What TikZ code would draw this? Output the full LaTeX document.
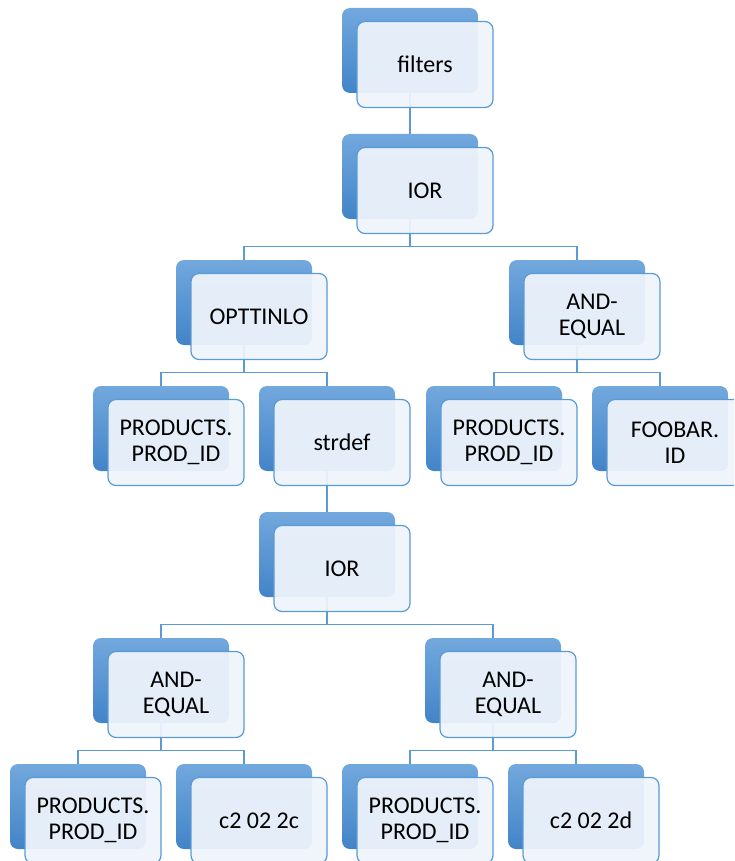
\documentclass[tikz,border=0pt]{standalone}
\usepackage{fontspec}
\setmainfont{Carlito}
\usepackage{tikz}
\usetikzlibrary{positioning}
\usetikzlibrary{backgrounds}

\definecolor{boxline}{RGB}{91,155,213}
\definecolor{backtop}{RGB}{114,168,221}
\definecolor{backbot}{RGB}{66,132,200}
\definecolor{frontfill}{RGB}{238,244,251}

\begin{document}
\begin{tikzpicture}[node distance=126pt,
		back node/.style={rectangle,rounded corners=8pt,minimum width=136pt,
			minimum height=85pt,inner sep=0pt,top color=backtop,bottom color=backbot},
		front node/.style={rectangle,rounded corners=8pt,minimum width=136pt,
			minimum height=86pt,inner sep=0pt,draw=boxline,line width=1.2pt,
			fill=frontfill,fill opacity=0.94,text opacity=1,align=center,
			font=\fontsize{24}{26.5}\selectfont},
		link/.style={draw=boxline,line width=1.2pt}]
		
		\useasboundingbox (0,0) rectangle (734pt,-861pt);
		\clip (0,0) rectangle (734pt,-861pt);
		
		% back boxes
		\node[back node] (filtersb) at (410pt,-50.5pt) {};
		\node[back node] (iorb) [below of=filtersb] {};
		\node[back node] (optb) [below of=iorb, xshift=-166pt] {};
		\node[back node] (andb) [below of=iorb, xshift=167pt] {};
		\node[back node] (prodab) [below of=optb, xshift=-83pt] {};
		\node[back node] (strdefb) [below of=optb, xshift=83pt] {};
		\node[back node] (prodbb) [below of=andb, xshift=-83pt] {};
		\node[back node] (foobarb) [below of=andb, xshift=83pt] {};
		\node[back node] (iorcb) [below of=strdefb] {};
		\node[back node] (andcb) [below of=iorcb, xshift=-166pt] {};
		\node[back node] (anddb) [below of=iorcb, xshift=166pt] {};
		\node[back node] (prodcb) [below of=andcb, xshift=-83pt] {};
		\node[back node] (ctwocb) [below of=andcb, xshift=83pt] {};
		\node[back node] (proddb) [below of=anddb, xshift=-83pt] {};
		\node[back node] (ctwodb) [below of=anddb, xshift=83pt] {};
		
		% front boxes
		\node[front node] (filters) at ([shift={(15pt,-14pt)}]filtersb) {filters};
		\node[front node] (ior) at ([shift={(15pt,-14pt)}]iorb) {IOR};
		\node[front node] (opt) at ([shift={(15pt,-14pt)}]optb) {OPTTINLO};
		\node[front node] (and) at ([shift={(15pt,-14pt)}]andb) {AND-\\EQUAL};
		\node[front node] (proda) at ([shift={(15pt,-14pt)}]prodab) {PRODUCTS.\\PROD\_ID};
		\node[front node] (strdef) at ([shift={(15pt,-14pt)}]strdefb) {strdef};
		\node[front node] (prodb) at ([shift={(15pt,-14pt)}]prodbb) {PRODUCTS.\\PROD\_ID};
		\node[front node] (foobar) at ([shift={(15pt,-14pt)}]foobarb) {FOOBAR.\\ID};
		\node[front node] (iorc) at ([shift={(15pt,-14pt)}]iorcb) {IOR};
		\node[front node] (andc) at ([shift={(15pt,-14pt)}]andcb) {AND-\\EQUAL};
		\node[front node] (andd) at ([shift={(15pt,-14pt)}]anddb) {AND-\\EQUAL};
		\node[front node] (prodc) at ([shift={(15pt,-14pt)}]prodcb) {PRODUCTS.\\PROD\_ID};
		\node[front node] (ctwoc) at ([shift={(15pt,-14pt)}]ctwocb) {c2 02 2c};
		\node[front node] (prodd) at ([shift={(15pt,-14pt)}]proddb) {PRODUCTS.\\PROD\_ID};
		\node[front node] (ctwod) at ([shift={(15pt,-14pt)}]ctwodb) {c2 02 2d};
		
		% connectors
		\begin{pgfonlayer}{background}
		\path[link]
		(filtersb) -- (iorb)
		(iorb) |- ([yshift=13pt]optb.north) -- (optb)
		(iorb) |- ([yshift=13pt]andb.north) -- (andb)
		(optb) |- ([yshift=13pt]prodab.north) -- (prodab)
		(optb) |- ([yshift=13pt]strdefb.north) -- (strdefb)
		(andb) |- ([yshift=13pt]prodbb.north) -- (prodbb)
		(andb) |- ([yshift=13pt]foobarb.north) -- (foobarb)
		(strdefb) -- (iorcb)
		(iorcb) |- ([yshift=13pt]andcb.north) -- (andcb)
		(iorcb) |- ([yshift=13pt]anddb.north) -- (anddb)
		(andcb) |- ([yshift=13pt]prodcb.north) -- (prodcb)
		(andcb) |- ([yshift=13pt]ctwocb.north) -- (ctwocb)
		(anddb) |- ([yshift=13pt]proddb.north) -- (proddb)
		(anddb) |- ([yshift=13pt]ctwodb.north) -- (ctwodb);
		\end{pgfonlayer}
\end{tikzpicture}
\end{document}
